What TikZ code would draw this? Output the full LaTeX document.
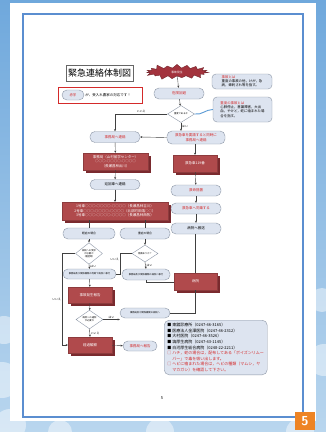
\documentclass[tikz,border=0pt]{standalone}
\usepackage{fontspec}
\setmainfont{Noto Sans CJK JP}
\usepackage{xcolor}
\usetikzlibrary{arrows.meta,shapes.geometric,shapes.symbols,shadows}
\definecolor{skytop}{HTML}{6FA8DC}
\definecolor{skybot}{HTML}{B9D6EE}
\definecolor{frameblue}{HTML}{5B8ED0}
\definecolor{pillfill}{HTML}{DDE4F0}
\definecolor{pillline}{HTML}{8C96A6}
\definecolor{boxred}{HTML}{B04A4C}
\definecolor{shadowred}{HTML}{7A2A2E}
\definecolor{burstred}{HTML}{A3333D}
\definecolor{txtred}{HTML}{D42A2A}
\definecolor{calloutblue}{HTML}{5B9BD5}
\definecolor{pageorange}{HTML}{EE8424}
\newcommand{\tinyjp}{\fontsize{3.5}{4.4}\selectfont}
\newcommand{\minijp}{\fontsize{2.8}{3.4}\selectfont}
\newcommand{\diajp}{\fontsize{2.3}{2.8}\selectfont}
\newcommand{\infojp}{\fontsize{4}{5.6}\selectfont}

\begin{document}
\begin{tikzpicture}[x=1pt,y=-1pt,
  pill/.style={draw=pillline,fill=pillfill,line width=0.4pt,rounded corners=5pt,minimum width=#1,
               minimum height=11pt,inner sep=0pt,align=center,font=\tinyjp},pill/.default=50pt,
  rbox/.style={fill=boxred,draw=boxred!80!black,line width=0.3pt,minimum width=#1,minimum height=17pt,
               inner sep=0pt,align=center,text=white,font=\tinyjp,
               drop shadow={shadow xshift=3pt,shadow yshift=-3pt,fill=shadowred,opacity=1}},
  dia/.style={diamond,draw=pillline,fill=white,line width=0.4pt,inner sep=0pt,minimum width=27pt,
              minimum height=17pt,align=center,font=\diajp},
  ln/.style={line width=0.4pt,draw=black!75},
  yn/.style={font=\minijp,inner sep=1pt},
  >={Stealth[length=2.2pt,width=2pt]}]
\useasboundingbox (0,0) rectangle (326,432);
% background and page
\shade[top color=skytop,bottom color=skybot] (0,0) rectangle (326,432);
\foreach \cx/\cy/\r in {4/330/14,2/380/18,10/425/16,322/300/12,324/360/16,300/432/14,60/432/12,160/432/14}
  \fill[white,opacity=0.45] (\cx,\cy) circle (\r pt);
\fill[white] (10,3) rectangle (316,421);
\draw[frameblue,line width=1.6pt] (23,14) rectangle (303,417);

% title and legend
\node[draw=black!60,line width=0.5pt,minimum width=67pt,minimum height=16pt,inner sep=0pt,
      font=\fontsize{9}{10}\selectfont] (title) at (99.5,73) {緊急連絡体制図};
\node[draw=txtred,line width=1pt,minimum width=84pt,minimum height=16pt,inner sep=0pt] (legend) at (100,95) {};
\node[pill=22pt,minimum height=10pt,text=txtred] (akaji) at (73,95) {赤字};
\node[anchor=west,font=\tinyjp,inner sep=1pt] (legendtxt) at (akaji.east) {が、受入れ農家の対応です！};

% top part
\node[starburst,starburst points=19,starburst point height=5pt,fill=burstred,draw=burstred!70!black,
      inner xsep=14pt,inner ysep=1.5pt,text=white,font=\minijp] (accident) at (177,72) {事故発生};
\node[pill,text=txtred] (avoid) at (179,93.5) {危険回避};
\node[pill,rounded corners=4pt,minimum width=60pt,minimum height=15pt,align=left,font=\fontsize{3.4}{4.1}\selectfont]
  (defjiko) at (242,81.5) {{\color{txtred}事故とは}\\重度の事故の他，けが，急\\病，蜂刺され等を指す。};
\node[pill,rounded corners=4pt,minimum width=59pt,minimum height=25pt,align=left,font=\fontsize{3.4}{4.2}\selectfont]
  (defjudo) at (242.5,109.5) {{\color{txtred}重度の事故とは}\\心肺停止，意識障害，大出\\血，やけど，蛇に噛まれた場\\合を指す。};
\node[dia] (severe) at (181,114) {重度であるか};
\node[pill=58pt,minimum height=13pt,text=txtred] (callamb) at (196,137.5) {救急車を要請すると同時に\\事務局へ連絡};
\node[pill,text=txtred] (office) at (115,137) {事務局へ連絡};
\draw[calloutblue,line width=0.9pt] (defjudo.west) to[out=180,in=-10] (severe.east);

% left column
\node[rbox=65pt] (officebox) at (115.5,161.5) {事務局（山村留学センター）\\○○○-○○○○-○○○○\\（長瀬昌林出川）};
\node[pill,minimum height=10pt] (patrol) at (115,184.5) {巡回車へ連絡};
\node[rbox=106pt,minimum height=18pt] (cars) at (115,211)
  {1号車○○○-○○○○-○○○○（長瀬昌林吉川）\\2号車○○○-○○○○-○○○○（北部町田端○○）\\3号車○○○-○○○○-○○○○（長瀬昌林西牧）};
\node[pill=52pt,font=\minijp] (light) at (89,233.5) {軽症の場合};
\node[pill,font=\minijp] (heavy) at (145,233.5) {重症の場合};
\node[dia] (needvisit) at (89,253.5) {病院への受診\\が必要か\\（軽症時）};
\node[dia,minimum width=26pt] (conscious) at (145,253.5) {意識ありか？};
\node[pill=53pt,minimum height=10pt,font=\diajp] (moveL) at (89.5,274) {事務局及び関係機関の判断で病院へ移行};
\node[pill=48pt,font=\diajp] (moveR) at (146,274.5) {事務局及び関係機関の病院へ移行};
\node[rbox=44pt,minimum height=16pt] (report) at (90,295) {事故発生報告};
\node[dia,minimum height=16pt] (needhosp) at (89.5,319.5) {病院への通院\\が必要か};
\node[pill,minimum height=10pt,font=\diajp] (tohosp) at (145,313) {事務局及び関係機関の病院へ};
\node[rbox=44pt,minimum height=16pt] (observe) at (90,345) {経過観察};
\node[pill=34pt,minimum height=10pt,text=txtred] (reportoffice) at (140,346) {事務局へ報告};

% right column
\node[rbox=44pt] (call119) at (195,163.5) {救急車119番};
\node[pill,text=txtred] (lifesave) at (196,190.5) {救命措置};
\node[pill,text=txtred] (ride) at (196,208.5) {救急車へ同乗する};
\node[pill] (transport) at (196,228.5) {病院へ搬送};
\node[rbox=43pt] (hospital) at (195.5,281.5) {病院};

% hospitals
\node[draw=pillline,fill=pillfill,line width=0.4pt,rounded corners=5pt,minimum width=103pt,minimum height=54pt,
      inner sep=3pt,align=left,anchor=north west,font=\infojp] (info) at (164,320)
  {■ 東舘診療所（0247-46-3165）\\
   ■ 医療法人金澤医院（0247-46-2312）\\
   ■ 大村医院（0247-46-3526）\\
   ■ 塙厚生病院（0247-43-1145）\\
   ■ 白河厚生総合病院（0248-22-2211）\\
   {\color{txtred}□ ハチ，蛇の場合は，配布してある「ポイズンリムー}\\
   {\color{txtred}\phantom{□ }バー」で毒を吸い出します。}\\
   {\color{txtred}□ ヘビに噛まれた場合は，ヘビの種類（マムシ，ヤ}\\
   {\color{txtred}\phantom{□ }マカガシ）を確認して下さい。}};

% connectors
\draw[ln,->] (accident) -- (avoid);
\draw[ln,->] (avoid) -- (severe);
\draw[ln,->] (severe.west) -- node[yn,above]{いいえ} (115,114) -- (office.north);
\draw[ln,->] (severe.south) -- node[yn,right]{はい} (callamb.north -| severe.south);
\draw[ln,->] (callamb.west) -- (office.east);
\draw[ln,->] (office) -- (officebox);
\draw[ln,->] (officebox) -- (patrol);
\draw[ln,->] (patrol) -- (cars);
\draw[ln] (cars.south -| light.north) -- (light.north);
\draw[ln] (cars.south -| heavy.north) -- (heavy.north);
\draw[ln,->] (light) -- (needvisit);
\draw[ln,->] (heavy) -- (conscious);
\draw[ln,->] (needvisit.south) -- node[yn,right]{はい} (moveL.north);
\draw[ln,->] (conscious.south) -- node[yn,right]{はい} (moveR.north);
\draw[ln] (conscious.west) -- (120,253.5) -- node[yn,left,pos=0.3]{いいえ} (120,274) -- (moveL.east);
\draw[ln,->] (needvisit.west) -- (62,253.5) -- node[yn,left]{いいえ} (62,345) -- (observe.west);
\draw[ln,->] (moveL) -- (report);
\draw[ln,->] (report) -- (needhosp);
\draw[ln,->] (needhosp.east) -- node[yn,above]{はい} (tohosp.west |- needhosp.east);
\draw[ln,->] (needhosp.south) -- node[yn,right]{いいえ} (observe.north);
\draw[ln,->] (observe) -- (reportoffice);
\draw[ln,->] (callamb.south -| call119.north) -- (call119.north);
\draw[ln,->] (call119) -- (lifesave);
\draw[ln,->] (lifesave) -- (ride);
\draw[ln,->] (ride) -- (transport);
\draw[ln] (transport.south -| hospital.north) -- (hospital.north);
\draw[ln] (moveR.south) -- (146,282) -- (hospital.west |- 0,282);
\draw[ln] (hospital.south) -- (195.5,313) -- (tohosp.east);

% page number
\node[font=\fontsize{4}{5}\selectfont] (pagenum) at (162,398) {5};
\node[fill=pageorange,minimum width=20pt,minimum height=18pt,inner sep=0pt,text=white,
      font=\sffamily\bfseries\fontsize{13}{13}\selectfont] (pagebadge) at (305,421) {5};
\end{tikzpicture}
\end{document}
